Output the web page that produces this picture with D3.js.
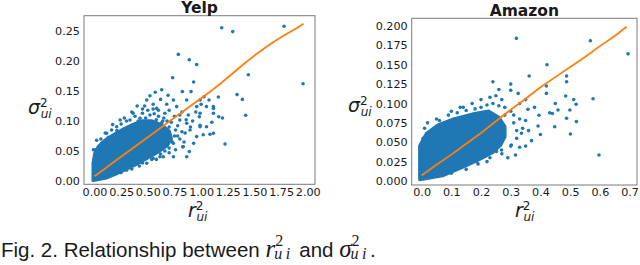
<!DOCTYPE html>
<html>
<head>
<meta charset="utf-8">
<script src="https://cdn.jsdelivr.net/npm/d3@7"></script>
<style>
  body { margin: 0; background: #fff; }
  svg text { fill: #1a1a1a; }
</style>
</head>
<body>
<div id="content"></div>
<script>
// tick values
const yelpXTicks = [0, 0.25, 0.5, 0.75, 1.0, 1.25, 1.5, 1.75, 2.0];
const yelpYTicks = [0, 0.05, 0.10, 0.15, 0.20, 0.25];
const amzXTicks = [0, 0.1, 0.2, 0.3, 0.4, 0.5, 0.6, 0.7];
const amzYTicks = [0, 0.025, 0.05, 0.075, 0.1, 0.125, 0.15, 0.175, 0.2];

// dense core of the yelp cloud (outline)
const yelpCore = [[-0.012,0.001],[0.1,0.005],[0.2,0.012],[0.3,0.02],[0.4,0.029],[0.5,0.039],[0.6,0.049],
  [0.68,0.059],[0.72,0.07],[0.7,0.083],[0.63,0.093],[0.54,0.1],[0.45,0.1],[0.36,0.094],[0.27,0.086],
  [0.18,0.077],[0.1,0.068],[0.04,0.058],[0.005,0.047],[-0.012,0.03]];

// individual points outside the core
const yelpPoints = [[1.193,0.2555],[1.296,0.249],[1.778,0.258],[1.956,0.162],[0.786,0.211],[0.889,0.202],
  [0.958,0.194],[0.733,0.172],[0.930,0.165],[1.443,0.177],[0.630,0.152],[0.824,0.149],[0.905,0.149],
  [1.337,0.144],[1.387,0.136],[1.418,0.1095],[1.027,0.1405],[1.162,0.140],[1.165,0.107],[1.074,0.135],
  [0.983,0.107],[0.959,0.124],[1.115,0.121],[1.224,0.0617],[1.083,0.078],[0.889,0.049],[0.827,0.057],
  [0.99,0.093],[1.02,0.077],[0.614,0.0405],[0.537,0.036],[0.192,0.0155],[0.005,0.052],[0.24,0.1017],
  [0.362,0.113],[0.62,0.136],[0.677,0.128],[0.74,0.135],[0.77,0.124],[0.82,0.115],[0.865,0.135],
  [0.99,0.135],[1.05,0.124],[1.115,0.113],[0.99,0.0905],[0.865,0.0962],[0.583,0.121],[0.52,0.110],
  [0.427,0.1045],[0.49,0.135],[0.80,0.1017],[0.896,0.085],[0.958,0.074],[0.833,0.057],[0.74,0.0405],
  [0.645,0.0405],[0.49,0.0295],[0.708,0.068],[0.99,0.113],[1.115,0.124],[1.05,0.0905],[1.115,0.0795],
  [0.865,0.0405],[0.333,0.1017],[0.208,0.0905],[0.114,0.0795],[0.02,0.068],[-0.01,0.052],[0.07,0.063],
  [0.4,0.125],[0.45,0.12],[0.55,0.128],[0.6,0.118],[0.66,0.113],[0.7,0.118],[0.75,0.108],[0.78,0.092],
  [0.85,0.08],[0.92,0.1],[0.93,0.063],[0.8,0.07],[0.76,0.052],[0.7,0.047],[0.58,0.036],[0.42,0.025],
  [0.3,0.018],[0.35,0.115],[0.28,0.105],[0.17,0.094],[0.52,0.142],[0.69,0.143],[0.57,0.148],
  [0.95,0.115],[1.0,0.128],[1.2,0.105],[1.1,0.098],[0.88,0.11],[0.68,0.1],[0.63,0.097],
  [0.1,0.08],[0.16,0.085],[0.25,0.095],[0.3,0.1],[0.38,0.108],[0.45,0.113],[0.5,0.118],[0.56,0.112],
  [0.6,0.108],[0.65,0.105],[0.72,0.098],[0.76,0.085],[0.78,0.075],[0.74,0.063],[0.7,0.055],[0.66,0.05],
  [0.62,0.045],[0.55,0.038],[0.45,0.03],[0.35,0.02],[0.25,0.014],[0.12,0.006],[0.06,0.07],[0.13,0.073],
  [0.21,0.084],[0.41,0.1],[0.48,0.105],[0.58,0.102],[0.64,0.1],[0.7,0.09],[0.75,0.075],[0.73,0.065],
  [0.82,0.082],[0.84,0.065],[0.9,0.09],[0.86,0.102],[0.8,0.11],[0.67,0.07],[0.55,0.12],[0.47,0.125]];

const yelpLineX = [0, 0.1, 0.2, 0.3, 0.4, 0.5, 0.6, 0.7, 0.8, 0.9, 1.0, 1.1, 1.2, 1.3, 1.4, 1.5, 1.6, 1.7, 1.8, 1.9, 1.96];
const yelpLineY = [0.008, 0.021, 0.034, 0.047, 0.06, 0.073, 0.086, 0.099, 0.112, 0.125, 0.138, 0.151, 0.165,
  0.18, 0.195, 0.209, 0.222, 0.234, 0.245, 0.255, 0.262];

const amzCore = [[-0.006,0.002],[0.07,0.007],[0.145,0.019],[0.2,0.029],[0.24,0.037],[0.265,0.046],
  [0.28,0.057],[0.28,0.07],[0.26,0.082],[0.225,0.09],[0.17,0.086],[0.11,0.08],[0.055,0.072],
  [0.016,0.061],[-0.006,0.045]];

const amzPoints = [[0.319,0.184],[0.568,0.181],[0.695,0.164],[0.422,0.150],[0.362,0.1355],[0.488,0.1355],
  [0.240,0.128],[0.488,0.128],[0.42,0.1226],[0.325,0.113],[0.42,0.113],[0.485,0.1097],[0.512,0.105],
  [0.577,0.106],[0.358,0.0925],[0.395,0.0848],[0.431,0.088],[0.459,0.0916],[0.499,0.0916],[0.488,0.081],
  [0.521,0.0766],[0.44,0.087],[0.392,0.071],[0.448,0.070],[0.597,0.0335],[0.501,0.0606],[0.33,0.0435],
  [0.316,0.0335],[0.336,0.0615],[0.269,0.04],[0.252,0.038],[0.184,0.025],[0.17,0.024],[0.302,0.0465],
  [0.3,0.117],[0.27,0.105],[0.25,0.11],[0.2,0.105],[0.17,0.1],[0.13,0.095],[0.1,0.09],[0.28,0.095],
  [0.33,0.1],[0.31,0.085],[0.35,0.078],[0.34,0.068],[0.32,0.055],[0.29,0.03],[0.22,0.025],[0.14,0.095],
  [0.09,0.085],[0.05,0.08],[0.02,0.075],[0.01,0.068],[0.23,0.108],[0.35,0.105],[0.38,0.095],[0.3,0.125],
  [0.26,0.118],[0.4,0.06],[0.37,0.052],[0.45,0.1],[0.52,0.099],
  [0.06,0.078],[0.12,0.088],[0.18,0.093],[0.22,0.098],[0.26,0.097],[0.3,0.09],[0.31,0.075],[0.32,0.065],
  [0.3,0.045],[0.27,0.035],[0.23,0.03],[0.19,0.022],[0.15,0.015],[0.1,0.01],[0.005,0.055],[0.2,0.095],
  [0.24,0.1],[0.15,0.091],[0.28,0.085],[0.33,0.08],[0.36,0.065],[0.35,0.045]];

const amzLineX = [0, 0.05, 0.1, 0.15, 0.2, 0.25, 0.3, 0.35, 0.4, 0.45, 0.5, 0.55, 0.6, 0.65, 0.69];
const amzLineY = [0.007, 0.021, 0.034, 0.048, 0.062, 0.077, 0.092, 0.106, 0.121, 0.134, 0.147, 0.16, 0.174, 0.187, 0.199];

const blue = "#1f77b4", orange = "#ff7f0e";

let svg = d3.select("#content").append("svg")
    .attr("width", 640)
    .attr("height", 265);

// math label like sigma^2_ui
function mathLabel(sel, letter, big, small, supDy, subDy, back, spacing, family) {
    sel.append("tspan").style("font-family", family).style("font-style", "italic").style("font-size", big + "px").text(letter);
    sel.append("tspan").attr("dy", supDy).style("font-family", family).style("font-size", small + "px").text("2");
    sel.append("tspan").attr("dx", back).attr("dy", subDy).style("font-family", family).style("font-style", "italic")
        .style("font-size", small + "px").style("letter-spacing", spacing + "px").text("ui");
}

function drawPanel(p) {
    let x = d3.scaleLinear().domain(p.xDomain).range([p.left, p.right]);
    let y = d3.scaleLinear().domain(p.yDomain).range([p.bottom, p.top]);
    let g = svg.append("g");

    // x ticks
    g.append("g")
        .attr("transform", `translate(0,${p.bottom})`)
        .call(d3.axisBottom(x).tickValues(p.xTicks).tickSize(0).tickPadding(3.5).tickFormat(d3.format(p.xFmt)))
        .call(a => a.select(".domain").remove())
        .selectAll("text")
        .style("font", "11.2px 'DejaVu Sans'").attr("fill", "#1a1a1a");

    // y ticks
    g.append("g")
        .attr("transform", `translate(${p.left},0)`)
        .call(d3.axisLeft(y).tickValues(p.yTicks).tickSize(0).tickPadding(4).tickFormat(d3.format(p.yFmt)))
        .call(a => a.select(".domain").remove())
        .selectAll("text")
        .style("font", "11.2px 'DejaVu Sans'").attr("fill", "#1a1a1a");

    let clip = "clip" + p.name;
    g.append("clipPath").attr("id", clip)
        .append("rect").attr("x", p.left).attr("y", p.top)
        .attr("width", p.right - p.left).attr("height", p.bottom - p.top);
    let plot = g.append("g").attr("clip-path", `url(#${clip})`);

    // dense core
    plot.append("path")
        .attr("d", d3.line().x(d => x(d[0])).y(d => y(d[1])).curve(d3.curveLinearClosed)(p.core))
        .attr("fill", blue)
        .attr("stroke", blue)
        .attr("stroke-width", 3.5)
        .attr("stroke-linejoin", "round");

    plot.selectAll("circle")
        .data(p.points)
        .enter()
        .append("circle")
        .attr("cx", d => x(d[0]))
        .attr("cy", d => y(d[1]))
        .attr("r", 1.8)
        .style("fill", blue);

    let lineData = p.lineX.map((d, i) => [d, p.lineY[i]]);
    plot.append("path")
        .attr("d", d3.line().x(d => x(d[0])).y(d => y(d[1]))(lineData))
        .attr("fill", "none")
        .attr("stroke", orange)
        .attr("stroke-width", 1.8)
        .attr("stroke-linejoin", "round");

    // frame
    g.append("rect")
        .attr("x", p.left).attr("y", p.top)
        .attr("width", p.right - p.left).attr("height", p.bottom - p.top)
        .attr("fill", "none").attr("stroke", "#7a7a7a").attr("stroke-width", 1);

    // title
    g.append("text")
        .attr("x", (p.left + p.right) / 2)
        .attr("y", p.titleY)
        .attr("text-anchor", "middle")
        .style("font", "bold 15.5px 'DejaVu Sans'")
        .text(p.name);

    let yl = g.append("text").attr("x", p.yLabelX).attr("y", p.yLabelY);
    mathLabel(yl, "σ", 19, 12, -7, 11, -7, 0, "'DejaVu Sans'");

    let xl = g.append("text").attr("x", p.xLabelX).attr("y", p.xLabelY);
    mathLabel(xl, "r", 19, 12, -7, 11, -7, 0, "'DejaVu Sans'");
}

drawPanel({
    name: "Yelp", left: 84, right: 315, top: 15.7, bottom: 184.3,
    xDomain: [-0.0985, 2.068], yDomain: [-0.0055, 0.2755],
    xTicks: yelpXTicks, yTicks: yelpYTicks, xFmt: ".2f", yFmt: ".2f",
    core: yelpCore, points: yelpPoints, lineX: yelpLineX, lineY: yelpLineY,
    titleY: 13, yLabelX: 28, yLabelY: 114, xLabelX: 188, xLabelY: 217
});

drawPanel({
    name: "Amazon", left: 411.7, right: 637, top: 18.3, bottom: 185,
    xDomain: [-0.0334, 0.725], yDomain: [-0.0052, 0.2099],
    xTicks: amzXTicks, yTicks: amzYTicks, xFmt: ".1f", yFmt: ".3f",
    core: amzCore, points: amzPoints, lineX: amzLineX, lineY: amzLineY,
    titleY: 16, yLabelX: 348, yLabelY: 112, xLabelX: 515, xLabelY: 217
});

// caption
let cap = svg.append("text")
    .attr("x", 1)
    .attr("y", 257)
    .style("font-family", "'Liberation Sans', Arial, sans-serif")
    .style("font-size", "20.5px");
cap.append("tspan").text("Fig. 2. Relationship between ");
mathLabel(cap, "r", 25, 16, -11, 13, -9, 3.5, "'Liberation Serif'");
cap.append("tspan").attr("dy", -2).text(" and ");
mathLabel(cap, "σ", 25, 16, -11, 13, -9, 3.5, "'Liberation Serif'");
cap.append("tspan").attr("dy", -2).text(".");
</script>
</body>
</html>
